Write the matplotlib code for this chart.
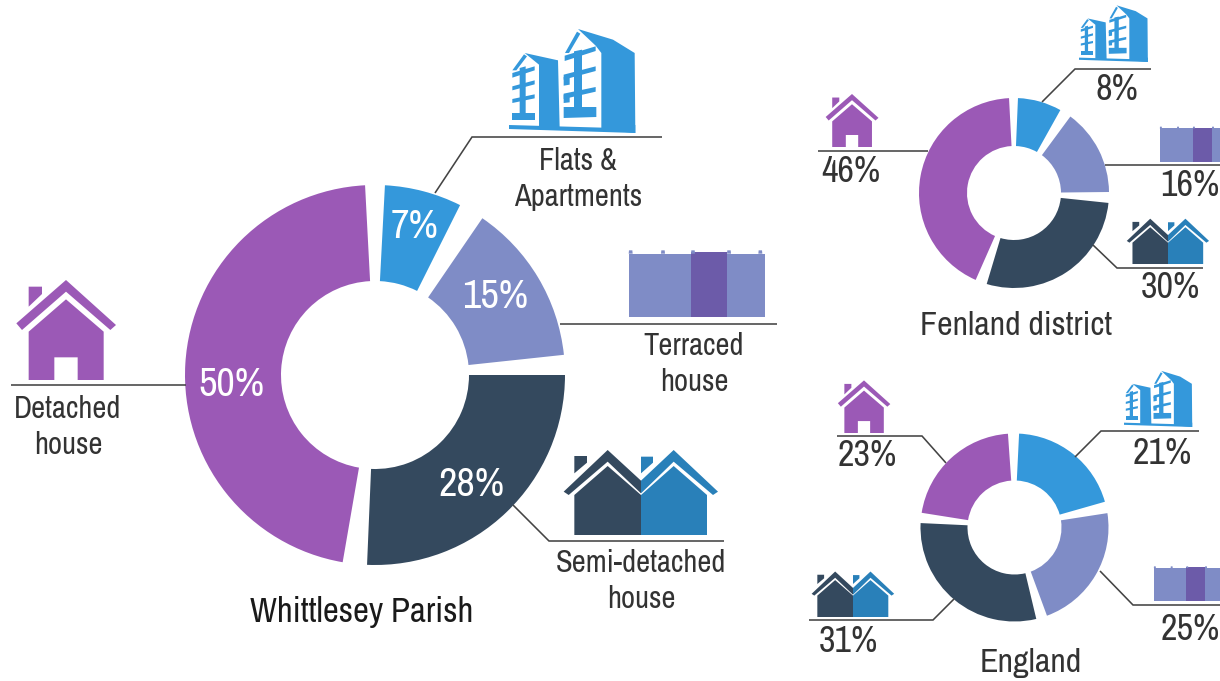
import matplotlib
matplotlib.use("Agg")
import matplotlib.pyplot as plt
from matplotlib import font_manager as fm
from matplotlib.patches import Polygon

# --- DATA ---
categories = ["Flats & Apartments", "Terraced house", "Semi-detached house", "Detached house"]
parish_values = [7, 15, 28, 50]
fenland_values = [8, 16, 30, 46]
england_values = [21, 25, 31, 23]

# --- STYLE ---
W, H = 1220, 681
FLATS = "#3498db"
TERRACE = "#7f8cc6"
TERRACE_DARK = "#6c5ba9"
SEMI = "#34495e"
SEMI_BLUE = "#2980b9"
DETACHED = "#9b59b6"
slice_colors = [FLATS, TERRACE, SEMI, DETACHED]
LINE = "#444444"
TEXT = "#333333"

# narrow face if the machine has one, plain sans otherwise
installed = {f.name for f in fm.fontManager.ttflist}
narrow = [n for n in ["Archivo Narrow", "Roboto Condensed", "PT Sans Narrow", "Liberation Sans Narrow"]
          if n in installed]
plt.rcParams["font.family"] = narrow[:1] + ["Liberation Sans", "DejaVu Sans"]

fig = plt.figure(figsize=(W / 100, H / 100), dpi=100)
ax = fig.add_axes([0, 0, 1, 1])


def Y(py):
    # picture pixels count downwards, the axes go up
    return H - py


def donut(values, cx, cy, r_out, r_in, start, trims):
    """Ring chart; trims opens the gaps between slices (degrees at each slice end)."""
    wedges, _ = ax.pie(values, colors=slice_colors, radius=r_out, center=(cx, Y(cy)),
                       startangle=start, counterclock=False,
                       wedgeprops={"width": r_out - r_in, "linewidth": 0})
    for w, (t_start, t_end) in zip(wedges, trims):
        # clockwise slices: theta2 is where the slice begins
        th1, th2 = w.theta1 + t_end, w.theta2 - t_start
        w.set_theta1(th1)
        w.set_theta2(th2)


def leader(xs, ys):
    ax.plot(xs, [Y(y) for y in ys], color=LINE, lw=1.15, solid_capstyle="butt",
            solid_joinstyle="miter", zorder=3)


def label(x, y, txt, size=26, color=TEXT, **kw):
    ax.text(x, Y(y), txt, fontsize=size, color=color, ha="center", va="center", zorder=5, **kw)


def poly(points, ox, oy, s, color, x0, y0):
    # icon outlines are noted on a 3x grid, x0/y0 is the grid point placed on ox/oy
    pts = [(ox + (x - x0) / 3 * s, Y(oy + (y - y0) / 3 * s)) for x, y in points]
    ax.add_patch(Polygon(pts, closed=True, facecolor=color, edgecolor="none", zorder=4))


def house_icon(cx, bottom, s):
    a = dict(ox=cx, oy=bottom, s=s, color=DETACHED, x0=197, y0=330)
    poly([(48, 160), (197, 30), (347, 165), (330, 180), (197, 65), (65, 180)], **a)
    poly([(85, 50), (125, 50), (125, 72), (85, 110)], **a)
    poly([(197, 88), (310, 185), (310, 330), (232, 330), (232, 262), (162, 262),
          (162, 330), (85, 330), (85, 185)], **a)


def semi_icon(cx, bottom, s):
    a = dict(ox=cx, oy=bottom, s=s, x0=422, y0=285)
    poly([(190, 155), (322, 30), (422, 122), (422, 160), (322, 65), (205, 165)], color=SEMI, **a)
    poly([(222, 48), (260, 48), (260, 68), (222, 100)], color=SEMI, **a)
    poly([(222, 165), (322, 78), (422, 165), (422, 285), (222, 285)], color=SEMI, **a)
    poly([(422, 122), (520, 30), (653, 155), (638, 165), (520, 65), (422, 160)], color=SEMI_BLUE, **a)
    poly([(422, 50), (458, 50), (458, 68), (422, 100)], color=SEMI_BLUE, **a)
    poly([(422, 165), (520, 78), (620, 165), (620, 285), (422, 285)], color=SEMI_BLUE, **a)


def terrace_icon(left, bottom, s):
    a = dict(ox=left, oy=bottom, s=s, x0=418, y0=892)
    poly([(418, 702), (826, 702), (826, 892), (418, 892)], color=TERRACE, **a)
    poly([(605, 698), (713, 698), (713, 892), (605, 892)], color=TERRACE_DARK, **a)
    for x in [423, 520, 610, 718, 812]:
        poly([(x - 6, 702), (x - 5, 692), (x + 5, 692), (x + 6, 702)], color=TERRACE, **a)


def flats_icon(left, bottom, s):
    a = dict(ox=left, oy=bottom, s=s, color=FLATS, x0=58, y0=340)
    # side walls and base
    poly([(265, 28), (370, 60), (435, 100), (437, 340), (335, 330), (335, 100), (318, 78)], **a)
    poly([(105, 100), (205, 122), (210, 325), (148, 322), (148, 135)], **a)
    poly([(58, 316), (340, 324), (437, 316), (437, 340), (58, 328)], **a)
    # gables
    poly([(262, 36), (272, 42), (238, 100), (226, 100)], **a)
    poly([(103, 104), (112, 110), (80, 152), (68, 152)], **a)
    # big block, floors
    poly([(253, 95), (277, 90), (277, 265), (253, 265)], **a)
    poly([(225, 108), (318, 80), (318, 94), (225, 124)], **a)
    poly([(222, 165), (318, 140), (318, 154), (222, 180)], **a)
    poly([(222, 222), (318, 202), (318, 216), (222, 238)], **a)
    poly([(222, 262), (320, 262), (320, 292), (222, 295)], **a)
    poly([(222, 172), (240, 170), (240, 195), (222, 198)], **a)
    poly([(222, 225), (240, 222), (240, 248), (222, 250)], **a)
    # small block, floors
    poly([(90, 145), (108, 140), (108, 282), (90, 282)], **a)
    poly([(68, 160), (135, 140), (135, 152), (68, 174)], **a)
    poly([(68, 200), (135, 182), (135, 194), (68, 212)], **a)
    poly([(68, 238), (135, 224), (135, 236), (68, 250)], **a)
    poly([(68, 280), (135, 280), (135, 300), (68, 300)], **a)


# --- WHITTLESEY PARISH ---
donut(parish_values, 375, 375, 190, 94, 88,
      [(1, 0.6), (7.2, -2.7), (8.8, -0.4), (7.8, 5)])
flats_icon(509, 133, 1)
terrace_icon(629, 317, 1)
semi_icon(641, 535, 1)
house_icon(66, 380, 1)
leader([11, 186], [385, 385])
leader([435, 472, 662], [193, 137, 137])
leader([560, 777], [324, 324])
leader([513, 549, 724], [505, 541, 541])
for (x, y), v in zip([(415, 226), (495, 297), (471, 485), (231, 384)], parish_values):
    label(x, y, f"{v}%", size=29, color="white")
label(68, 427, "Detached\nhouse", size=22, linespacing=1.36)
label(578, 179, "Flats &\nApartments", size=22, linespacing=1.36)
label(694, 364, "Terraced\nhouse", size=22, linespacing=1.36)
label(641, 581, "Semi-detached\nhouse", size=22, linespacing=1.36)
label(362, 612, "Whittlesey Parish", size=25, color="#1a1a1a")

# --- FENLAND DISTRICT ---
donut(fenland_values, 1014, 193, 95, 47, 90,
      [(2.4, -0.4), (7.6, -3), (9.6, -2.3), (9.4, 3)])
flats_icon(1079, 62, 0.545)
terrace_icon(1160, 162, 0.53)
semi_icon(1168, 264, 0.533)
house_icon(852, 147, 0.53)
leader([1042, 1075, 1151], [102, 69, 69])
leader([818, 928], [151, 151])
leader([1105, 1220], [165, 165])
leader([1093, 1117, 1203], [245, 268, 268])
for (x, y), v in zip([(1117, 89), (1190, 186), (1170, 288), (851, 172)], fenland_values):
    label(x, y, f"{v}%")
label(1016, 326, "Fenland district", size=24.5)

# --- ENGLAND ---
donut(england_values, 1014.5, 527.5, 94, 47, 90,
      [(2.8, 1.5), (5.6, 5.8), (1, 4.5), (1.8, 4)])
flats_icon(1124, 427, 0.54)
terrace_icon(1154, 601, 0.52)
semi_icon(853, 617, 0.535)
house_icon(864, 433, 0.526)
leader([1075, 1101, 1199], [457, 431, 431])
leader([837, 922, 946], [436, 436, 463])
leader([1100, 1133, 1220], [571, 605, 605])
leader([809, 933, 954], [620, 620, 599])
for (x, y), v in zip([(1162, 453), (1190, 629), (848, 641), (867, 456)], england_values):
    label(x, y, f"{v}%")
label(1031, 663, "England", size=24.5)

ax.set_xlim(0, W)
ax.set_ylim(0, H)
ax.set_aspect("auto")
ax.axis("off")
fig.savefig("out.png", dpi=100, facecolor="white")
